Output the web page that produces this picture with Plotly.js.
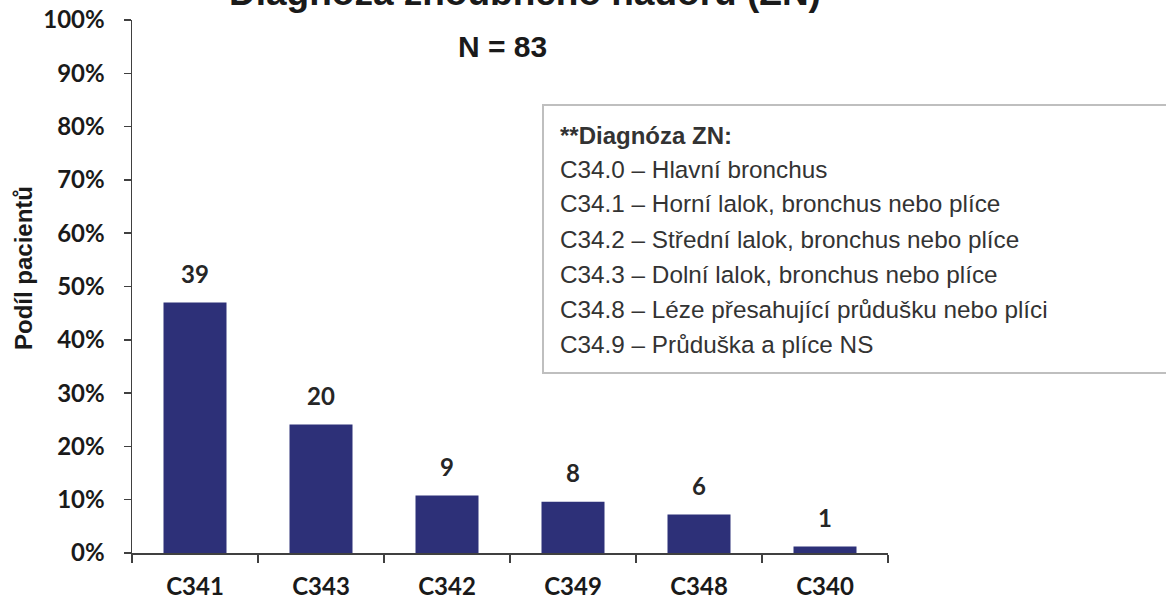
<!DOCTYPE html>
<html><head><meta charset="utf-8">
<script src="https://cdn.plot.ly/plotly-3.0.1.min.js"></script>
<style>html,body{margin:0;padding:0;background:#fff}#chart{width:1166px;height:601px}</style>
</head><body><div id="chart"></div>
<script>
const categories = ["C341","C343","C342","C349","C348","C340"];
const shares = [0.470, 0.241, 0.108, 0.096, 0.072, 0.012];
const counts = [39, 20, 9, 8, 6, 1];
const titleText = "Diagnóza zhoubného nádoru (ZN)";
const subtitleText = "N = 83";
const yTitle = "Podíl pacientů";
const legendHeader = "**Diagnóza ZN:";
const legendLines = [
  "C34.0 – Hlavní bronchus",
  "C34.1 – Horní lalok, bronchus nebo plíce",
  "C34.2 – Střední lalok, bronchus nebo plíce",
  "C34.3 – Dolní lalok, bronchus nebo plíce",
  "C34.8 – Léze přesahující průdušku nebo plíci",
  "C34.9 – Průduška a plíce NS"
];

const W = 1166, H = 601;
const L = 132, R = 888, T = 20, B = 553;
const px = x => (x - L) / (R - L);
const py = y => (B - y) / (B - T);
const ARIAL = 'Arial, "Liberation Sans", sans-serif';
const CAL = 'Lato, "Open Sans", sans-serif';

const trace = {
  type: 'bar',
  x: categories,
  y: shares,
  marker: {color: '#2d3078', line: {width: 0}},
  hoverinfo: 'none'
};

const annotations = [
  {xref:'paper', yref:'paper', x: px(525), y: py(-7), xanchor:'center', yanchor:'middle', showarrow:false,
   text: '<b>' + titleText + '</b>', font:{family:ARIAL, size:37, color:'#1a1a1a'}},
  {xref:'paper', yref:'paper', x: px(502), y: py(47), xanchor:'center', yanchor:'middle', showarrow:false,
   text: '<b>' + subtitleText + '</b>', font:{family:ARIAL, size:30, color:'#1a1a1a'}},
  {xref:'paper', yref:'paper', x: px(23), y: py(268), xanchor:'center', yanchor:'middle', showarrow:false, textangle:-90,
   text: '<b>' + yTitle + '</b>', font:{family:ARIAL, size:24, color:'#1a1a1a'}},
  {xref:'paper', yref:'paper', x: px(558), y: py(135), xanchor:'left', yanchor:'middle', showarrow:false,
   text: '<b>' + legendHeader + '</b>', font:{family:ARIAL, size:24, color:'#333333'}}
];
legendLines.forEach((s, i) => {
  annotations.push({xref:'paper', yref:'paper', x: px(558), y: py(169 + 35*i), xanchor:'left', yanchor:'middle', showarrow:false,
    text: s, font:{family:ARIAL, size:24.3, color:'#333333'}});
});
categories.forEach((c, i) => {
  annotations.push({xref:'x', yref:'y', x: c, y: shares[i], xanchor:'center', yanchor:'middle', yshift: 29, showarrow:false,
    text: '<b>' + counts[i] + '</b>', font:{family:CAL, size:24, color:'#262626'}});
});

const layout = {
  width: W, height: H,
  margin: {l: L, r: W - R, t: T, b: H - B, pad: 0},
  paper_bgcolor: '#ffffff', plot_bgcolor: '#ffffff',
  showlegend: false,
  bargap: 0.5,
  xaxis: {
    type: 'category', showgrid: false, zeroline: false,
    showline: true, linecolor: '#404040', linewidth: 1.5,
    ticks: 'outside', tickson: 'boundaries', ticklen: 8, tickcolor: '#404040', tickwidth: 1.5,
    ticklabelstandoff: 12,
    tickfont: {family: CAL, size: 24, color: '#1a1a1a', weight: 'bold'}
  },
  yaxis: {
    range: [0, 1], dtick: 0.1, tickformat: '.0%', showgrid: false, zeroline: false,
    showline: true, linecolor: '#404040', linewidth: 1.5,
    ticks: 'outside', ticklen: 7, tickcolor: '#404040', tickwidth: 1.5,
    ticklabelstandoff: 14,
    tickfont: {family: CAL, size: 24, color: '#1a1a1a', weight: 'bold'}
  },
  shapes: [
    {type:'rect', xref:'paper', yref:'paper', x0: px(543), x1: px(1175), y0: py(373), y1: py(105),
     line:{color:'#bfbfbf', width:2}, fillcolor:'rgba(255,255,255,0)', layer:'above'}
  ],
  annotations: annotations
};

Plotly.newPlot('chart', [trace], layout, {staticPlot: true, displayModeBar: false});
</script>
</body></html>
